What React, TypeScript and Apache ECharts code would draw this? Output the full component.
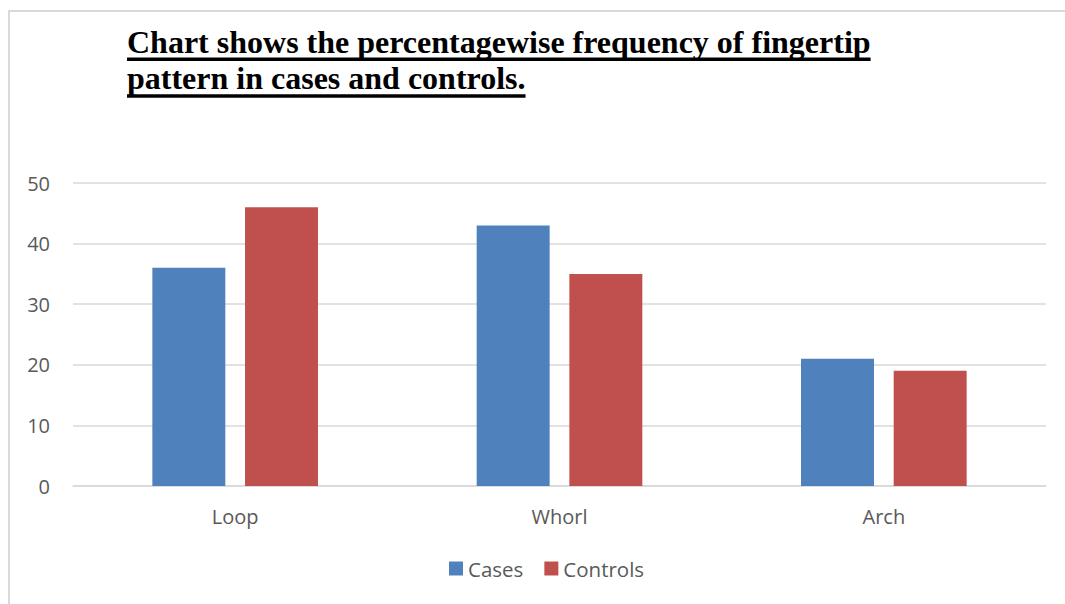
import React, { useEffect, useRef } from "react";
import * as echarts from "echarts";

const categories = ["Loop", "Whorl", "Arch"];
const casesValues = [36, 43, 21];
const controlsValues = [46, 35, 19];
const titleLines = [
  "Chart shows the percentagewise frequency of fingertip",
  "pattern in cases and controls.",
];

export default function App() {
  const ref = useRef<HTMLDivElement>(null);
  useEffect(() => {
    document.body.style.margin = "0";
    const chart = echarts.init(ref.current!, null, { renderer: "svg" });
    const titleFont = "bold 32px 'Liberation Serif', 'Times New Roman', serif";
    const measure = (t: string) => {
      const c = document.createElement("canvas").getContext("2d")!;
      c.font = titleFont;
      return c.measureText(t).width;
    };
    const titleX = 127;
    const tops = [25.5, 62];
    const underlines = [59.3, 96];
    const graphics: any[] = [
      {
        type: "rect",
        shape: { x: 9, y: 11, width: 1200, height: 800 },
        style: { fill: "none", stroke: "#d9d9d9", lineWidth: 2 },
        silent: true,
      },
    ];
    titleLines.forEach((t, i) => {
      graphics.push({
        type: "text",
        x: titleX,
        y: tops[i],
        style: {
          text: t,
          font: titleFont,
          fill: "#000",
          verticalAlign: "top",
        },
      });
      const w = measure(t);
      graphics.push({
        type: "line",
        shape: { x1: titleX, y1: underlines[i], x2: titleX + w, y2: underlines[i] },
        style: { stroke: "#000", lineWidth: 3.5 },
      });
    });
    chart.setOption({
      animation: false,
      textStyle: { fontFamily: "'Open Sans', sans-serif" },
      grid: { left: 73, right: 19, top: 183, bottom: 118, containLabel: false },
      legend: {
        data: ["Cases", "Controls"],
        bottom: 20,
        left: 444,
        icon: "rect",
        itemWidth: 14,
        itemHeight: 14,
        itemGap: 21,
        textStyle: { color: "#595959", fontSize: 20.5 },
      },
      xAxis: {
        type: "category",
        data: categories,
        axisLine: { lineStyle: { color: "#d9d9d9", width: 1.5 } },
        axisTick: { show: false },
        axisLabel: { color: "#595959", fontSize: 20, margin: 20 },
      },
      yAxis: {
        type: "value",
        min: 0,
        max: 50,
        interval: 10,
        axisLine: { show: false },
        axisTick: { show: false },
        splitLine: { lineStyle: { color: "#d9d9d9", width: 1.5 } },
        axisLabel: { color: "#595959", fontSize: 20, margin: 23 },
      },
      series: [
        {
          name: "Cases",
          type: "bar",
          data: casesValues,
          barWidth: "22.5%",
          barGap: "27%",
          itemStyle: { color: "#4f81bd" },
        },
        {
          name: "Controls",
          type: "bar",
          data: controlsValues,
          barWidth: "22.5%",
          barGap: "27%",
          itemStyle: { color: "#c0504d" },
        },
      ],
      graphic: graphics,
    });
    return () => chart.dispose();
  }, []);
  return <div ref={ref} style={{ width: 1065, height: 604 }} />;
}
